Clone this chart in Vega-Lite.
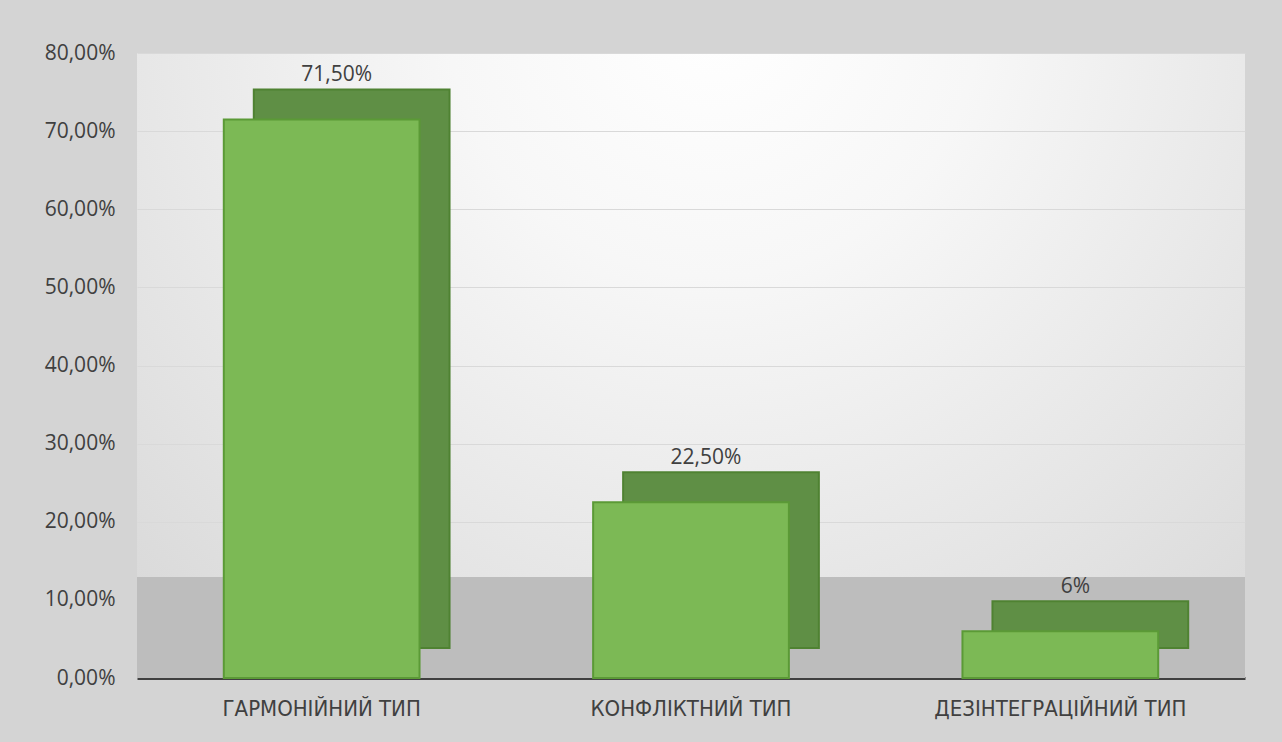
{
  "$schema": "https://vega.github.io/schema/vega-lite/v6.json",
  "width": 1108,
  "height": 625,
  "autosize": {"type": "none"},
  "padding": {"left": 137, "top": 53, "right": 37, "bottom": 64},
  "background": "#d4d4d4",
  "config": {
    "view": {
      "stroke": null,
      "fill": {
        "gradient": "radial",
        "x1": 0.52, "y1": 0.18, "r1": 0,
        "x2": 0.52, "y2": 0.18, "r2": 0.8,
        "stops": [
          {"offset": 0, "color": "#ffffff"},
          {"offset": 0.3, "color": "#f7f7f7"},
          {"offset": 0.75, "color": "#e2e2e2"},
          {"offset": 1, "color": "#d6d6d6"}
        ]
      }
    },
    "font": "Open Sans"
  },
  "data": {
    "values": [
      {"type": "ГАРМОНІЙНИЙ ТИП", "value": 0.715, "label": "71,50%"},
      {"type": "КОНФЛІКТНИЙ ТИП", "value": 0.225, "label": "22,50%"},
      {"type": "ДЕЗІНТЕГРАЦІЙНИЙ ТИП", "value": 0.06, "label": "6%"}
    ]
  },
  "encoding": {
    "x": {
      "field": "type",
      "type": "nominal",
      "sort": null,
      "scale": {"paddingInner": 0, "paddingOuter": 0},
      "axis": {
        "title": null,
        "labelAngle": 0,
        "ticks": false,
        "domainColor": "#404040",
        "domainWidth": 3,
        "labelFont": "DejaVu Sans Condensed",
        "labelFontSize": 22,
        "labelLimit": 0,
        "labelColor": "#404040",
        "labelPadding": 20,
        "grid": false
      }
    },
    "y": {
      "field": "value",
      "type": "quantitative",
      "scale": {"domain": [0, 0.8]},
      "axis": {
        "title": null,
        "values": [0, 0.1, 0.2, 0.3, 0.4, 0.5, 0.6, 0.7, 0.8],
        "labelExpr": "replace(format(datum.value, '.2%'), '.', ',')",
        "domain": false,
        "ticks": false,
        "labelFontSize": 21,
        "labelColor": "#404040",
        "labelPadding": 22,
        "gridColor": "#d9d9d9",
        "gridWidth": 1
      }
    }
  },
  "layer": [
    {
      "mark": {"type": "rect", "color": "#bdbdbd"},
      "encoding": {
        "x": null,
        "y": {"datum": 0, "type": "quantitative"},
        "y2": {"datum": 0.129}
      }
    },
    {
      "mark": {
        "type": "bar",
        "width": {"band": 0.53},
        "xOffset": 30,
        "yOffset": -30,
        "fill": "#5f8f45",
        "stroke": "#4f8232",
        "strokeWidth": 2
      }
    },
    {
      "mark": {
        "type": "bar",
        "width": {"band": 0.53},
        "fill": "#7cb955",
        "stroke": "#5b9a36",
        "strokeWidth": 2
      }
    },
    {
      "mark": {
        "type": "text",
        "dy": -44,
        "dx": 15,
        "fontSize": 21,
        "color": "#404040"
      },
      "encoding": {"text": {"field": "label"}}
    }
  ]
}
